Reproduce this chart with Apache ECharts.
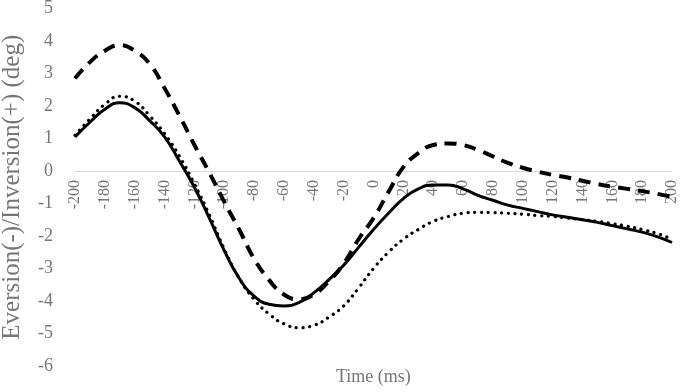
<!DOCTYPE html>
<html>
<head>
<meta charset="utf-8">
<script src="https://cdn.jsdelivr.net/npm/echarts@6/dist/echarts.min.js"></script>
<style>
  html, body { margin: 0; padding: 0; background: #fff; }
  #main { width: 681px; height: 392px; }
</style>
</head>
<body>
<div id="main"></div>
<script>
// time in ms, every 10 ms
var times = [-200, -190, -180, -170, -160, -150, -140, -130, -120, -110, -100,
  -90, -80, -70, -60, -50, -40, -30, -20, -10, 0,
  10, 20, 30, 40, 50, 60, 70, 80, 90, 100,
  110, 120, 130, 140, 150, 160, 170, 180, 190, 200];

var solidVals = [1.05, 1.5, 1.9, 2.1, 1.95, 1.55, 1.05, 0.3, -0.5, -1.45, -2.45,
  -3.3, -3.85, -4.1, -4.15, -4.05, -3.75, -3.35, -2.9, -2.35, -1.8,
  -1.3, -0.85, -0.55, -0.43, -0.43, -0.55, -0.75, -0.9, -1.05, -1.15,
  -1.25, -1.35, -1.42, -1.5, -1.58, -1.68, -1.78, -1.88, -2.02, -2.2];

var dashedVals = [2.85, 3.35, 3.7, 3.87, 3.7, 3.3, 2.55, 1.7, 0.8, -0.05, -0.95,
  -1.8, -2.7, -3.35, -3.8, -3.95, -3.8, -3.4, -2.85, -2.1, -1.45,
  -0.65, 0.12, 0.55, 0.8, 0.85, 0.8, 0.65, 0.45, 0.25, 0.1,
  -0.02, -0.12, -0.2, -0.3, -0.4, -0.48, -0.55, -0.62, -0.7, -0.8];

var dottedVals = [1.1, 1.6, 2.05, 2.3, 2.15, 1.7, 1.15, 0.45, -0.4, -1.35, -2.4,
  -3.3, -3.95, -4.4, -4.7, -4.82, -4.75, -4.5, -4.15, -3.6, -3.0,
  -2.5, -2.1, -1.8, -1.55, -1.4, -1.3, -1.27, -1.28, -1.3, -1.33,
  -1.37, -1.4, -1.45, -1.5, -1.55, -1.62, -1.7, -1.8, -1.92, -2.1];

function pairs(vals) {
  return times.map(function (t, i) { return [t, vals[i]]; });
}

var font = "'Liberation Serif', 'Times New Roman', serif";
var gray = "#767676";

var chart = echarts.init(document.getElementById("main"));
chart.setOption({
  animation: false,
  title: {
    text: "Time (ms)",
    left: 336,
    top: 368,
    padding: 0,
    textStyle: { fontFamily: font, fontSize: 18, fontWeight: "normal", color: gray }
  },
  grid: [
    { left: 75, right: 9, top: 8.5, bottom: 26, outerBoundsMode: "none" },
    // second grid ends on the zero line, only used to hold the time labels
    { left: 75, right: 9, top: 8.5, bottom: 221, outerBoundsMode: "none" }
  ],
  xAxis: [
    {
      type: "value",
      min: -200,
      max: 200,
      interval: 20,
      axisLine: { onZero: true, lineStyle: { color: "#d9d9d9", width: 1 } },
      axisTick: { show: false },
      splitLine: { show: false },
      axisLabel: { show: false }
    },
    {
      type: "value",
      gridIndex: 1,
      min: -200,
      max: 200,
      interval: 20,
      axisLine: { show: false },
      axisTick: { show: false },
      splitLine: { show: false },
      axisLabel: {
        rotate: 90,
        margin: 9,
        fontFamily: font,
        fontSize: 16,
        color: gray
      }
    }
  ],
  yAxis: [
    {
      type: "value",
      min: -6,
      max: 5,
      interval: 1,
      name: "Eversion(-)/Inversion(+) (deg)",
      nameLocation: "middle",
      nameGap: 50,
      nameTextStyle: { fontFamily: font, fontSize: 25, color: gray },
      axisLine: { show: false },
      axisTick: { show: false },
      splitLine: { show: false },
      axisLabel: { margin: 22, fontFamily: font, fontSize: 18, color: gray }
    },
    { type: "value", gridIndex: 1, show: false }
  ],
  series: [
    {
      type: "line",
      data: pairs(dottedVals),
      smooth: true,
      symbol: "none",
      lineStyle: { color: "#000", width: 3.2, type: [0.1, 6.6], cap: "round" }
    },
    {
      type: "line",
      data: pairs(dashedVals),
      smooth: true,
      symbol: "none",
      lineStyle: { color: "#000", width: 4, type: [12, 8] }
    },
    {
      type: "line",
      data: pairs(solidVals),
      smooth: true,
      symbol: "none",
      lineStyle: { color: "#000", width: 3 }
    }
  ]
});
</script>
</body>
</html>
